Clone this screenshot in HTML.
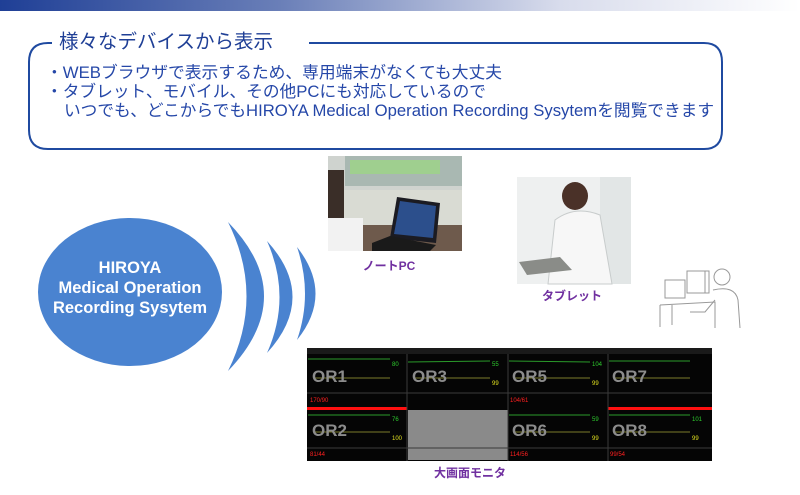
<!DOCTYPE html>
<html><head><meta charset="utf-8">
<style>
html,body{margin:0;padding:0;background:#fff;}
body{width:800px;height:495px;overflow:hidden;position:relative;font-family:"Liberation Sans","Noto Sans CJK JP",sans-serif;}
</style></head><body>
<svg width="800" height="495" viewBox="0 0 800 495" xmlns="http://www.w3.org/2000/svg" style="position:absolute;left:0;top:0">
<defs>
<linearGradient id="tb" x1="0" x2="1" y1="0" y2="0">
<stop offset="0" stop-color="#1f3f96"/><stop offset="0.35" stop-color="#6a7fb8"/><stop offset="0.7" stop-color="#d8dcec"/><stop offset="1" stop-color="#ffffff"/>
</linearGradient>
</defs>
<rect x="0" y="0" width="800" height="11" fill="url(#tb)"/>
<path d="M48 43 Q29 43 29 62 L29 130 Q29 149 48 149 L704 149 Q722 149 722 130 L722 62 Q722 43 704 43 L309 43" fill="none" stroke="#1f4aa0" stroke-width="2"/>
<path d="M48 43 L52 43" stroke="#1f4aa0" stroke-width="2"/>
<text x="59" y="48" font-size="19.5" fill="#1f3f96" font-family="Liberation Sans,Noto Sans CJK JP,sans-serif" textLength="214" lengthAdjust="spacingAndGlyphs">様々なデバイスから表示</text>
<g font-size="16.5" fill="#2547a8" font-family="Liberation Sans,Noto Sans CJK JP,sans-serif">
<text x="46" y="78" textLength="456" lengthAdjust="spacingAndGlyphs">・WEBブラウザで表示するため、専用端末がなくても大丈夫</text>
<text x="46" y="97" textLength="440" lengthAdjust="spacingAndGlyphs">・タブレット、モバイル、その他PCにも対応しているので</text>
<text x="64" y="116" textLength="650" lengthAdjust="spacingAndGlyphs">いつでも、どこからでもHIROYA Medical Operation Recording Sysytemを閲覧できます</text>
</g>
<ellipse cx="130" cy="292" rx="92" ry="74" fill="#4a83d0"/>
<g fill="#fff" font-weight="bold" font-size="16.5" text-anchor="middle" font-family="Liberation Sans,sans-serif">
<text x="130" y="273">HIROYA</text>
<text x="130" y="293">Medical Operation</text>
<text x="130" y="313">Recording Sysytem</text>
</g>
<path d="M228 222 Q300 296 228 371 Q265 296 228 222Z" fill="#4a83d0"/>
<path d="M267 241 Q318 297 267 353 Q292 297 267 241Z" fill="#4a83d0"/>
<path d="M297 247 Q334 294 297 340 Q313 294 297 247Z" fill="#4a83d0"/>
<rect x="328" y="156" width="134" height="95" fill="#cfd3cf"/>
<rect x="345" y="156" width="117" height="30" fill="#a9b8b2"/>
<rect x="350" y="160" width="90" height="14" fill="#9fcf8f"/>
<rect x="328" y="190" width="134" height="35" fill="#d9dbd3"/>
<rect x="350" y="225" width="112" height="26" fill="#6e5a4c"/>
<polygon points="397,197 440,203 436,243 390,238" fill="#1b1b22"/>
<polygon points="400,201 436,206 433,238 394,234" fill="#2c4f8c"/>
<polygon points="372,243 390,236 436,245 430,251 372,251" fill="#1a1a1a"/>
<rect x="328" y="170" width="16" height="60" fill="#3a2e28"/>
<rect x="328" y="218" width="35" height="33" fill="#f2f2f2"/>
<rect x="517" y="177" width="114" height="107" fill="#eef0f0"/>
<rect x="600" y="177" width="31" height="107" fill="#e2e6e6"/>
<ellipse cx="575" cy="196" rx="13" ry="14" fill="#4a3128"/>
<path d="M555 220 Q575 205 600 215 L612 284 L548 284Z" fill="#f7f7f7" stroke="#c8cccc"/>
<polygon points="519,262 560,257 572,270 527,275" fill="#8a8c88"/>
<g fill="none" stroke="#999" stroke-width="1">
<rect x="665" y="280" width="20" height="18"/>
<rect x="687" y="271" width="18" height="22"/>
<rect x="705" y="271" width="4" height="22"/>
<path d="M660 305 L715 302 L715 328 M660 305 L660 327 M672 305 L672 325"/>
<circle cx="722" cy="277" r="8"/>
<path d="M713 290 Q735 285 738 300 L740 328 M715 300 L705 312 L690 312"/>
</g>
<g font-size="12" font-weight="bold" fill="#7030a0" text-anchor="middle" font-family="Liberation Sans,Noto Sans CJK JP,sans-serif">
<text x="389" y="270">ノートPC</text>
<text x="572" y="300">タブレット</text>
<text x="470" y="477">大画面モニタ</text>
</g>
<rect x="307" y="348" width="405" height="113" fill="#050505"/>
<rect x="307" y="348" width="405" height="6" fill="#1a1a1a"/>
<rect x="307" y="407" width="100" height="3" fill="#ff1010"/>
<rect x="608" y="407" width="104" height="3" fill="#ff1010"/>
<rect x="408" y="410" width="100" height="50" fill="#8a8a8a"/>
<g stroke="#3a3a3a" stroke-width="1">
<line x1="407" y1="354" x2="407" y2="461"/><line x1="508" y1="354" x2="508" y2="461"/><line x1="608" y1="354" x2="608" y2="461"/>
<line x1="307" y1="393" x2="712" y2="393"/><line x1="307" y1="448" x2="712" y2="448"/>
</g>
<g stroke="#2a9a2a" stroke-width="1" fill="none">
<path d="M308 359 L390 359 M408 362 L490 361 M509 361 L590 362 M609 361 L690 361 M308 415 L390 415 M509 415 L590 415 M609 415 L690 415"/>
</g>
<g stroke="#7a7a2a" stroke-width="1" fill="none">
<path d="M315 378 L390 378 M415 378 L490 378 M515 378 L590 378 M615 378 L690 378 M315 432 L390 432 M515 432 L590 432 M615 432 L690 432"/>
</g>
<g font-size="17" font-weight="bold" fill="#8c8c8c" font-family="Liberation Sans,sans-serif">
<text x="312" y="382">OR1</text><text x="412" y="382">OR3</text><text x="512" y="382">OR5</text><text x="612" y="382">OR7</text>
<text x="312" y="436">OR2</text><text x="512" y="436">OR6</text><text x="612" y="436">OR8</text>
</g>
<g font-size="6" font-family="Liberation Sans,sans-serif">
<text x="392" y="366" fill="#2ecc2e">80</text><text x="492" y="366" fill="#2ecc2e">55</text><text x="592" y="366" fill="#2ecc2e">104</text>
<text x="392" y="421" fill="#2ecc2e">76</text><text x="592" y="421" fill="#2ecc2e">59</text><text x="692" y="421" fill="#2ecc2e">101</text>
<text x="492" y="385" fill="#e0e020">99</text><text x="592" y="385" fill="#e0e020">99</text><text x="392" y="440" fill="#e0e020">100</text><text x="592" y="440" fill="#e0e020">99</text><text x="692" y="440" fill="#e0e020">99</text>
<text x="310" y="402" fill="#ff2020">170/90</text><text x="510" y="402" fill="#ff2020">104/61</text>
<text x="310" y="456" fill="#ff2020">81/44</text><text x="510" y="456" fill="#ff2020">114/56</text><text x="610" y="456" fill="#ff2020">99/54</text>
</g>
</svg>
</body></html>
